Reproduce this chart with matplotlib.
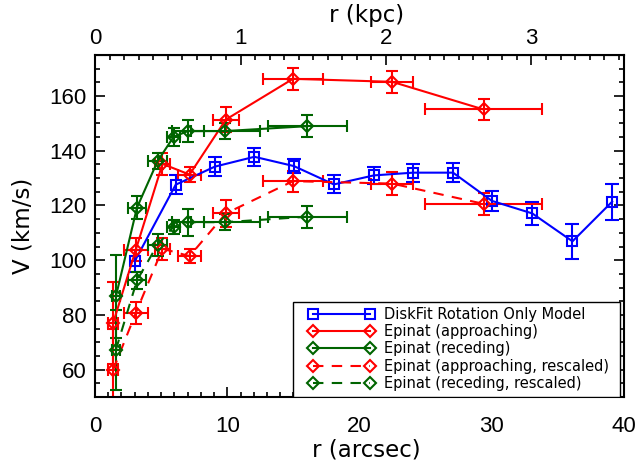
import matplotlib
matplotlib.use("Agg")
import matplotlib.pyplot as plt
import numpy as np
from matplotlib.patches import Rectangle
from matplotlib.ticker import MultipleLocator, FixedLocator

# DiskFit rotation-only model
r_df = [3.0, 6.1, 9.06, 12.05, 15.04, 18.06, 21.08, 24.05, 27.07, 30.0, 33.06, 36.1, 39.1]
v_df = [99.6, 127.6, 134.2, 137.8, 134.4, 127.7, 131.0, 132.0, 132.0, 121.7, 117.1, 106.9, 121.4]
ev_df = [4.0, 3.5, 3.5, 3.2, 2.7, 3.3, 3.2, 3.3, 3.4, 3.7, 4.1, 6.5, 6.6]

# Epinat, approaching side
r_ap = [1.36, 3.09, 5.1, 7.15, 9.89, 14.97, 22.47, 29.38]
er_ap = [0.4, 0.9, 0.6, 0.9, 1.0, 2.3, 1.6, 4.4]
v_ap = [76.9, 103.9, 135.2, 131.3, 151.4, 166.3, 165.2, 155.1]
ev_ap = [15.0, 4.1, 4.0, 2.7, 4.6, 4.0, 4.0, 4.0]

# Epinat, receding side
r_re = [1.58, 3.17, 4.73, 5.94, 7.02, 9.86, 16.05]
er_re = [0.3, 0.7, 0.7, 0.5, 1.2, 2.6, 3.0]
v_re = [86.8, 119.2, 136.2, 145.1, 147.2, 147.2, 149.0]
ev_re = [15.2, 4.1, 3.0, 3.2, 4.1, 3.0, 4.0]

# Rescaled curves
v_ap_rs = [59.8, 80.8, 104.2, 101.5, 117.1, 128.9, 128.0, 120.6]
ev_ap_rs = [15.0, 4.1, 4.0, 2.5, 4.8, 3.8, 4.1, 3.9]
v_re_rs = [67.3, 92.6, 105.7, 112.2, 113.9, 113.9, 115.9]
ev_re_rs = [14.6, 3.0, 4.0, 2.5, 5.0, 3.0, 4.0]

kpc_ticks = [0, 1, 2, 3]

ARCSEC_PER_KPC = 11.0

BLUE = "#0000ff"
RED = "#ff0000"
GREEN = "#006400"

TICK_FONT = "Liberation Sans"
LABEL_FONT = "DejaVu Sans"

fig = plt.figure(figsize=(6.39, 4.69), dpi=100)
ax = fig.add_axes([0.1487, 0.1535, 0.8279, 0.7292])

lw = 1.5

def curve(r, v, ev, er, color, marker, ms, ls, label, capsize):
    ax.errorbar(r, v, yerr=ev, xerr=er, fmt="none", ecolor=color,
                elinewidth=lw, capsize=capsize, capthick=lw, zorder=2)
    ax.plot(r, v, color=color, lw=lw, ls=ls, marker=marker, ms=ms,
            mfc="none", mec=color, mew=lw, label=label, zorder=3,
            dashes=(5, 4) if ls == "--" else (None, None))

curve(r_df, v_df, ev_df, None, BLUE, "s", 7, "-", "DiskFit Rotation Only Model", 5)
curve(r_ap, v_ap, ev_ap, er_ap, RED, "D", 6, "-", "Epinat (approaching)", 4)
curve(r_re, v_re, ev_re, er_re, GREEN, "D", 6, "-", "Epinat (receding)", 4)
curve(r_ap, v_ap_rs, ev_ap_rs, er_ap, RED, "D", 6, "--", "Epinat (approaching, rescaled)", 4)
curve(r_re, v_re_rs, ev_re_rs, er_re, GREEN, "D", 6, "--", "Epinat (receding, rescaled)", 4)

ax.set_xlim(0, 40)
ax.set_ylim(50, 175)

lfs = 16.5
tfs = 16
ax.set_xlabel("r (arcsec)", fontsize=lfs, family=LABEL_FONT, labelpad=1)
ax.xaxis.label.set_x(0.513)
ax.set_ylabel("V (km/s)", fontsize=lfs, family=LABEL_FONT, labelpad=11)

ax.xaxis.set_major_locator(MultipleLocator(10))
ax.xaxis.set_minor_locator(MultipleLocator(1))
ax.yaxis.set_major_locator(MultipleLocator(20))
ax.yaxis.set_minor_locator(MultipleLocator(5))
ax.tick_params(which="both", direction="in", top=False, right=True, width=1.2)
ax.tick_params(which="major", length=7)
ax.tick_params(which="minor", length=3.5)
ax.tick_params(axis="x", which="major", pad=14)
ax.tick_params(axis="y", which="major", pad=6)
for lab in ax.get_xticklabels() + ax.get_yticklabels():
    lab.set_fontfamily(TICK_FONT)
    lab.set_fontsize(tfs)
for s in ax.spines.values():
    s.set_linewidth(1.5)

sec = ax.secondary_xaxis("top", functions=(lambda x: x / ARCSEC_PER_KPC,
                                           lambda k: k * ARCSEC_PER_KPC))
kpc_max = 40 / ARCSEC_PER_KPC
sec.xaxis.set_major_locator(FixedLocator(kpc_ticks))
sec.xaxis.set_minor_locator(FixedLocator(np.arange(0.1, kpc_max, 0.1)))
sec.tick_params(which="both", direction="in", width=1.2)
sec.tick_params(which="major", length=7, pad=4.5)
sec.tick_params(which="minor", length=3.5)
for lab in sec.get_xticklabels():
    lab.set_fontfamily(TICK_FONT)
    lab.set_fontsize(tfs)
sec.set_xlabel("r (kpc)", fontsize=lfs, family=LABEL_FONT, labelpad=4)
sec.xaxis.label.set_x(0.513)

# Legend box, drawn separately so the inner padding can differ per side
ax.add_patch(Rectangle((0.3743, 0.0), 0.9924 - 0.3743, 0.2778,
                       transform=ax.transAxes, facecolor="white",
                       edgecolor="black", lw=1.0, zorder=4.5))
leg = ax.legend(loc="center left", bbox_to_anchor=(0.4045, 0.1404), borderaxespad=0,
                fontsize=10.5, numpoints=2, handlelength=4.5, handletextpad=0.65,
                labelspacing=0.15, frameon=False, borderpad=0)
leg.set_zorder(5)

fig.savefig("out.png", dpi=100)
